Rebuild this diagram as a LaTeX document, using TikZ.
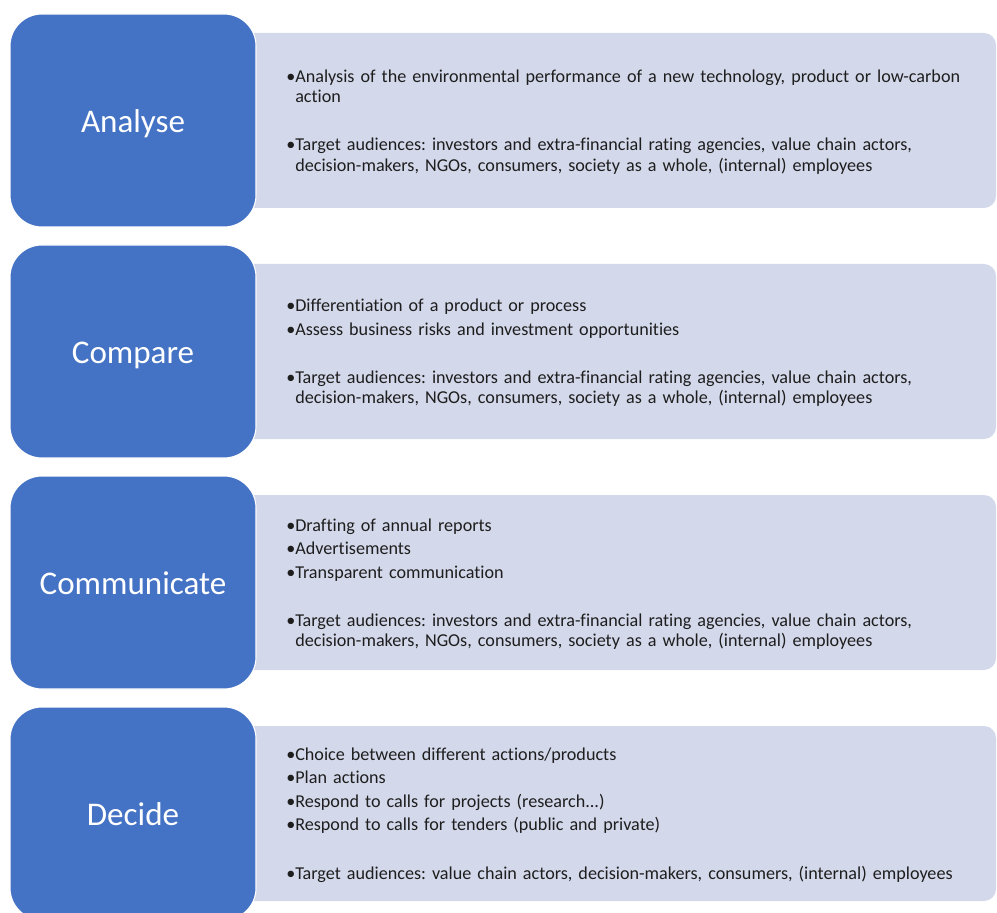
\documentclass[tikz,border=0pt]{standalone}
\usepackage{fontspec}
\setmainfont{Carlito}[Ligatures=NoCommon]

\definecolor{stageblue}{HTML}{4472C4}
\definecolor{panelfill}{HTML}{D3D8EA}
\definecolor{ink}{HTML}{1E1E1E}

% bullet paragraphs with a hanging indent the width of the bullet
\newlength\bulw
\newcommand\bitem[1]{\par\noindent\hangindent=\bulw\hangafter=1 \textbullet#1\par}
\newcommand\blankline{\vskip 18.4pt}
\newcommand\panelsetup{\frenchspacing\fontsize{13.6pt}{15.15pt}\selectfont\setlength\parskip{2.5pt}\settowidth\bulw{\textbullet}}

\tikzset{
  stagebox/.style={fill=stageblue, draw=white, line width=0.8pt, rounded corners=24pt,
    minimum width=184.5pt, minimum height=159.75pt, inner sep=0pt,
    text=white, font=\fontsize{24.8pt}{28pt}\selectfont},
  panelbox/.style={fill=panelfill, draw=none, rounded corners=9pt,
    minimum width=567pt, minimum height=131.25pt, inner sep=0pt},
  paneltext/.style={anchor=west, inner sep=0pt, text width=530pt, align=left,
    text=ink, font=\panelsetup},
  stagelabel/.style={text=white, inner sep=0pt, font=\fontsize{24.8pt}{28pt}\selectfont},
}

\begin{document}
\begin{tikzpicture}[x=0.75pt, y=-0.75pt]
  \useasboundingbox (0,0) rectangle (997,913);
  \clip (0,0) rectangle (997,913);

  % right-hand panels
  \node[panelbox] (p1) at (618,120.5) {};
  \node[panelbox] (p2) at (618,351.5) {};
  \node[panelbox] (p3) at (618,582.5) {};
  \node[panelbox] (p4) at (618,813.5) {};

  % stage boxes
  \node[stagebox] (s1) at (133,120.5) {};
  \node[stagebox] (s2) at (133,351.5) {};
  \node[stagebox] (s3) at (133,582.5) {};
  \node[stagebox] (s4) at (133,813.5) {};

  % stage names, centred on the x-height band
  \node[stagelabel, anchor=base] (l1) at ([yshift=-9pt]s1.center) {Analyse};
  \node[stagelabel, anchor=base] (l2) at ([yshift=-9pt]s2.center) {Compare};
  \node[stagelabel, anchor=base] (l3) at ([yshift=-9pt]s3.center) {Communicate};
  \node[stagelabel, anchor=base] (l4) at ([yshift=-9pt]s4.center) {Decide};

  % panel contents
  \node[paneltext] (t1) at (286,116.5) {%
    \bitem{Analysis of the environmental performance of a new technology, product or low-carbon\newline action}
    \blankline
    \bitem{Target audiences: investors and extra-financial rating agencies, value chain actors,\newline decision-makers, NGOs, consumers, society as a whole, (internal) employees}};

  \node[paneltext] (t2) at (286,347.5) {%
    \bitem{Differentiation of a product or process}
    \bitem{Assess business risks and investment opportunities}
    \blankline
    \bitem{Target audiences: investors and extra-financial rating agencies, value chain actors,\newline decision-makers, NGOs, consumers, society as a whole, (internal) employees}};

  \node[paneltext] (t3) at (286,578.5) {%
    \bitem{Drafting of annual reports}
    \bitem{Advertisements}
    \bitem{Transparent communication}
    \blankline
    \bitem{Target audiences: investors and extra-financial rating agencies, value chain actors,\newline decision-makers, NGOs, consumers, society as a whole, (internal) employees}};

  \node[paneltext] (t4) at (286,809.5) {%
    \bitem{Choice between different actions/products}
    \bitem{Plan actions}
    \bitem{Respond to calls for projects (research...)}
    \bitem{Respond to calls for tenders (public and private)}
    \blankline
    \bitem{Target audiences: value chain actors, decision-makers, consumers, (internal) employees}};
\end{tikzpicture}
\end{document}
